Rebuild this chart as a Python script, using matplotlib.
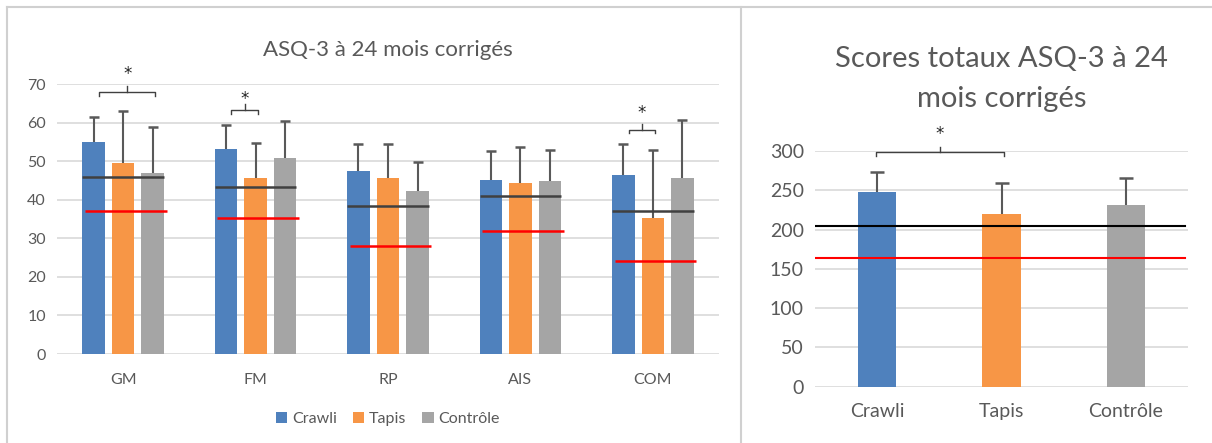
import numpy as np
import matplotlib
matplotlib.use("Agg")
import matplotlib.pyplot as plt
from matplotlib.lines import Line2D

plt.rcParams['font.family'] = ['Lato', 'DejaVu Sans']

# ---- data: sub-scores ----
domains = ["GM", "FM", "RP", "AIS", "COM"]
groups = ["Crawli", "Tapis", "Contrôle"]
crawli = [55.0, 53.2, 47.5, 45.1, 46.3]
tapis = [49.6, 45.6, 45.6, 44.4, 35.2]
controle = [47.0, 50.8, 42.3, 44.9, 45.7]
crawli_top = [61.4, 59.5, 54.4, 52.7, 54.4]   # mean + SD
tapis_top = [63.0, 54.8, 54.4, 53.7, 52.9]
controle_top = [58.9, 60.4, 49.7, 52.9, 60.6]
mean_ref = [45.9, 43.3, 38.3, 41.0, 37.0]     # black line
cutoff = [37.0, 35.2, 28.1, 31.9, 24.2]       # red line

# ---- data: total scores ----
total = [248.3, 220.3, 231.8]
total_top = [272.9, 259.7, 265.8]
total_mean_ref = 205
total_cutoff = 163.5

colors = ["#4F81BD", "#F79646", "#A5A5A5"]
txt = "#595959"
grid_c = "#D9D9D9"

fig = plt.figure(figsize=(12.12, 4.43), dpi=100)

# panel frames
for (x0, y0, x1, y1) in [(7, 7, 1212, 7), (7, 7, 7, 443), (741, 7, 741, 443)]:
    fig.add_artist(Line2D([x0 / 1212, x1 / 1212], [1 - y0 / 443, 1 - y1 / 443],
                          color="#D0D0D0", lw=1.5))


def up_err(ax, pos, vals, tops, capw):
    # only the upper half of the error bar, like Excel's "plus" bars
    ax.vlines(pos, vals, tops, color="#595959", lw=1.5, zorder=3)
    ax.plot(pos, tops, ls="none", marker="_", ms=capw, mew=1.8, color="#595959", zorder=3)


def bracket(ax, x0, x1, y, drop, rise, star_y, fs):
    xm = (x0 + x1) / 2
    ax.plot([x0, x0, x1, x1], [y - drop, y, y, y - drop], color="#404040", lw=1, clip_on=False)
    ax.plot([xm, xm], [y, y + rise], color="#404040", lw=1, clip_on=False)
    ax.text(xm, star_y, "*", ha="center", va="center", fontsize=fs, color="#222222",
            family="DejaVu Sans")


def style(ax, ylim, step, fs):
    ax.set_ylim(*ylim)
    ax.set_yticks(np.arange(0, ylim[1] + 0.1, step))
    for s in ax.spines.values():
        s.set_visible(False)
    ax.grid(axis="y", color=grid_c, lw=1.2)
    ax.set_axisbelow(True)
    ax.tick_params(length=0, labelsize=fs, colors=txt, pad=8)


# ---- left chart ----
ax1 = fig.add_axes([57 / 1212, 1 - 354 / 443, 662 / 1212, 270 / 443])
x = np.arange(len(domains))
w = 0.17
off = 0.223
series = [(crawli, crawli_top), (tapis, tapis_top), (controle, controle_top)]
for k, (vals, tops) in enumerate(series):
    pos = x + (k - 1) * off
    ax1.bar(pos, vals, w, color=colors[k], label=groups[k], zorder=2)
    up_err(ax1, pos, vals, tops, 7)
for i in range(len(domains)):
    ax1.hlines(mean_ref[i], x[i] - off - w / 2, x[i] + off + w / 2, color="#404040", lw=1.8, zorder=4)
    ax1.hlines(cutoff[i], x[i] - off - w / 2 + 0.02, x[i] + off + w / 2 + 0.02, color="#FF0000", lw=1.8, zorder=4)
ax1.set_xlim(-0.5, len(domains) - 0.5)
style(ax1, (0, 70), 10, 11.5)
ax1.set_xticks(x)
ax1.set_xticklabels(domains)
ax1.tick_params(axis="x", pad=14)
ax1.set_title("ASQ-3 à 24 mois corrigés", fontsize=16, color=txt, pad=20)
bracket(ax1, x[0] - off + 0.04, x[0] + off + 0.02, 67.8, 0.9, 1.8, 72.6, 12)
bracket(ax1, x[1] - off + 0.04, x[1] + 0.02, 63.2, 0.9, 1.6, 66.2, 12)
bracket(ax1, x[4] - off + 0.04, x[4] + 0.02, 58.1, 0.9, 1.6, 62.4, 12)
ax1.legend(loc="upper center", bbox_to_anchor=(0.5, -0.16), ncol=3, frameon=False,
           fontsize=11.5, labelcolor=txt, handlelength=0.7, handleheight=0.7,
           handletextpad=0.3, columnspacing=1.0)

# ---- right chart ----
ax2 = fig.add_axes([815 / 1212, 1 - 386.7 / 443, 373 / 1212, 235.7 / 443])
x2 = np.arange(len(groups))
ax2.bar(x2, total, 0.31, color=colors, zorder=2)
up_err(ax2, x2, total, total_top, 10)
ax2.set_xlim(-0.5, 2.5)
ax2.axhline(total_mean_ref, color="#000000", lw=1.5, xmax=0.992, zorder=4)
ax2.axhline(total_cutoff, color="#FF0000", lw=1.5, xmax=0.992, zorder=4)
style(ax2, (0, 300), 50, 14)
ax2.set_xticks(x2)
ax2.set_xticklabels(groups)
ax2.tick_params(axis="x", pad=12)
ax2.set_title("Scores totaux ASQ-3 à 24\nmois corrigés", fontsize=21, color=txt, pad=32,
              linespacing=1.65)
bracket(ax2, -0.01, 1.02, 298.6, 4.5, 7, 322, 12)

fig.savefig("out.png", dpi=100)
